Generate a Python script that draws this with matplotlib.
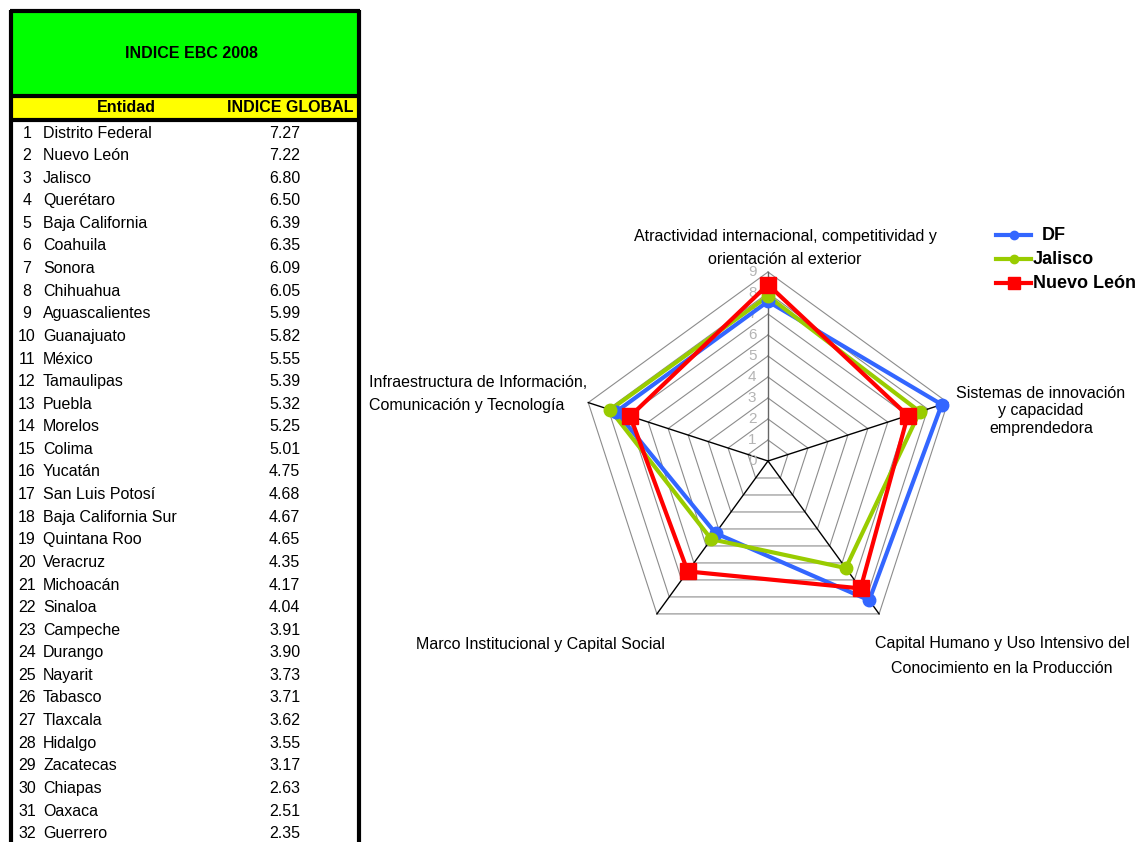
import numpy as np
import matplotlib
matplotlib.use("Agg")
import matplotlib.pyplot as plt
from matplotlib.patches import Rectangle

plt.rcParams['font.family'] = ['Liberation Sans', 'DejaVu Sans']

# ---------------- data ----------------
table_title = "INDICE EBC 2008"
col_headers = ["Entidad", "INDICE GLOBAL"]
entidades = ["Distrito Federal", "Nuevo León", "Jalisco", "Querétaro", "Baja California",
             "Coahuila", "Sonora", "Chihuahua", "Aguascalientes", "Guanajuato", "México",
             "Tamaulipas", "Puebla", "Morelos", "Colima", "Yucatán", "San Luis Potosí",
             "Baja California Sur", "Quintana Roo", "Veracruz", "Michoacán", "Sinaloa",
             "Campeche", "Durango", "Nayarit", "Tabasco", "Tlaxcala", "Hidalgo",
             "Zacatecas", "Chiapas", "Oaxaca", "Guerrero"]
indice_global = [7.27, 7.22, 6.80, 6.50, 6.39, 6.35, 6.09, 6.05, 5.99, 5.82, 5.55,
                 5.39, 5.32, 5.25, 5.01, 4.75, 4.68, 4.67, 4.65, 4.35, 4.17, 4.04,
                 3.91, 3.90, 3.73, 3.71, 3.62, 3.55, 3.17, 2.63, 2.51, 2.35]

categories = ["Atractividad internacional, competitividad y\norientación al exterior",
              "Sistemas de innovación\ny capacidad\nemprendedora",
              "Capital Humano y Uso Intensivo del\nConocimiento en la Producción",
              "Marco Institucional y Capital Social",
              "Infraestructura de Información,\nComunicación y Tecnología"]
series_names = ["DF", "Jalisco", "Nuevo León"]
df_vals = [7.6, 8.7, 8.2, 4.25, 7.6]
jal_vals = [7.85, 7.6, 6.3, 4.6, 7.9]
nl_vals = [8.4, 7.0, 7.5, 6.5, 6.9]
radial_ticks = [0, 1, 2, 3, 4, 5, 6, 7, 8, 9]

# ---------------- figure ----------------
W, H = 1143, 842
fig = plt.figure(figsize=(W / 100, H / 100), dpi=100)
ax0 = fig.add_axes([0, 0, 1, 1])
ax0.set_xlim(0, W)
ax0.set_ylim(H, 0)
ax0.axis('off')

# ---- table ----
ax0.add_patch(Rectangle((10, 10), 350, 900, facecolor='white', edgecolor='none', zorder=1))
ax0.add_patch(Rectangle((12, 12), 346, 82, facecolor='#00FF00', edgecolor='none', zorder=2))
ax0.add_patch(Rectangle((12, 97), 346, 21, facecolor='#FFFF00', edgecolor='none', zorder=2))
for xs, ys in [([11, 11], [10, H + 5]), ([359, 359], [10, H + 5]),
               ([10, 360], [11, 11]), ([10, 360], [95.5, 95.5]), ([10, 360], [119.5, 119.5])]:
    ax0.plot(xs, ys, color='black', lw=3, zorder=3, solid_capstyle='butt')

ax0.text(191, 53, table_title, ha='center', va='center', fontsize=11.5, fontweight='bold', zorder=4)
ax0.text(126, 108, col_headers[0], ha='center', va='center', fontsize=11.5, fontweight='bold', zorder=4)
ax0.text(290, 108, col_headers[1], ha='center', va='center', fontsize=11.5, fontweight='bold', zorder=4)

row0, dy = 133, 22.6
tfs = 11.5
for i, (name, v) in enumerate(zip(entidades, indice_global)):
    y = row0 + i * dy
    ax0.text(27, y, str(i + 1), ha='center', va='center', fontsize=tfs, zorder=4)
    ax0.text(43, y, name, ha='left', va='center', fontsize=tfs, zorder=4)
    ax0.text(269, y, f"{v:.2f}", ha='left', va='center', fontsize=tfs, zorder=4)

# ---- radar ----
cx, cy, unit = 768, 461, 21.0
half = 200
rax = fig.add_axes([(cx - half) / W, (H - cy - half) / H, 2 * half / W, 2 * half / H])
lim = half / unit
rax.set_xlim(-lim, lim)
rax.set_ylim(-lim, lim)
rax.axis('off')

n = len(categories)
angles = np.pi / 2 - np.arange(n) * 2 * np.pi / n

def xy(vals):
    v = np.asarray(vals, dtype=float)
    x = v * np.cos(angles)
    y = v * np.sin(angles)
    return np.append(x, x[0]), np.append(y, y[0])

for r in radial_ticks[1:]:
    gx, gy = xy([r] * n)
    rax.plot(gx, gy, color='#8c8c8c', lw=0.8, zorder=1)
for k, a in enumerate(angles):
    rax.plot([0, 9 * np.cos(a)], [0, 9 * np.sin(a)],
             color='#666666' if k == 0 else 'black', lw=1.0, zorder=2)
for r in radial_ticks:
    rax.text(-0.55, r, str(r), ha='right', va='center', fontsize=11, color='#b4b4b4', zorder=2)

colors = ['#3366FF', '#99CC00', '#FF0000']
markers = ['o', 'o', 's']
msizes = [9, 9, 12]
for vals, c, m, ms in zip([df_vals, jal_vals, nl_vals], colors, markers, msizes):
    px, py = xy(vals)
    rax.plot(px, py, color=c, lw=3, zorder=3)
    rax.plot(px[:-1], py[:-1], ls='none', marker=m, ms=ms, color=c, zorder=4)

lab_fs = 11.5
ax0.text(785, 248, categories[0], ha='center', va='center', fontsize=lab_fs, linespacing=1.6)
ax0.text(1041, 411, categories[1], ha='center', va='center', fontsize=lab_fs, linespacing=1.22)
ax0.text(1002, 656, categories[2], ha='center', va='center', fontsize=lab_fs, linespacing=1.85)
ax0.text(540, 644, categories[3], ha='center', va='center', fontsize=lab_fs)
ax0.text(369, 394, categories[4], ha='left', va='center', fontsize=lab_fs, linespacing=1.7)

leg_y = [235, 259, 283]
leg_text_x = [1042, 1033, 1033]
for name, c, m, ms, ly, tx in zip(series_names, colors, markers, [6, 6, 8], leg_y, leg_text_x):
    ax0.plot([996, 1031], [ly, ly], color=c, lw=3, zorder=5)
    ax0.plot([1013.5], [ly], marker=m, ms=ms, color=c, ls='none', zorder=6)
    ax0.text(tx, ly + 1, name, ha='left', va='center', fontsize=13, fontweight='bold')

fig.savefig('out.png', dpi=100)
